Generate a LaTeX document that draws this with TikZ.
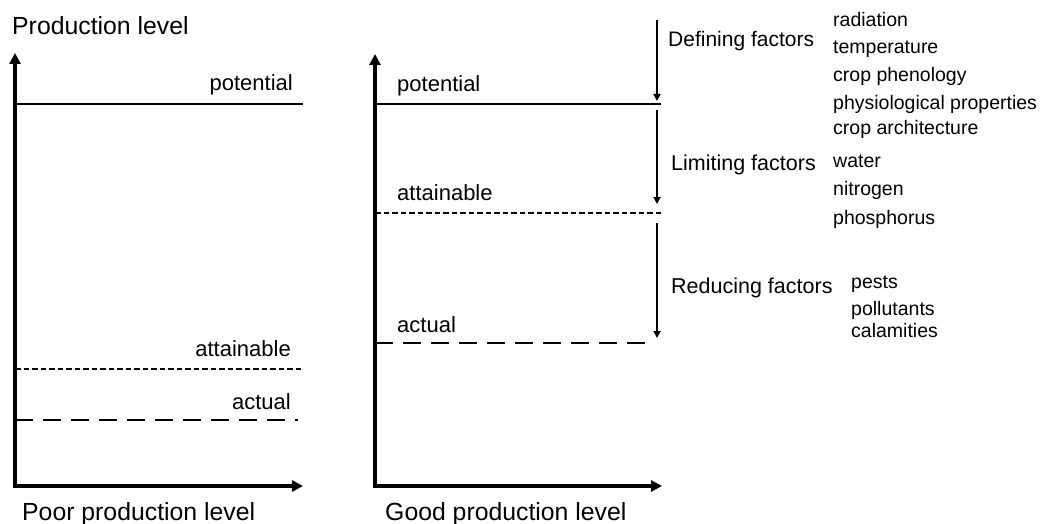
\documentclass[tikz,border=0pt]{standalone}
\usepackage{fontspec}
\setmainfont{Liberation Sans}
\usetikzlibrary{arrows.meta}
\begin{document}
\begin{tikzpicture}[x=1pt,y=-1pt,
  axisline/.style={line width=3.5pt,line join=miter,
    {Triangle[length=11pt,width=11pt]}-{Triangle[length=11pt,width=11pt]}},
  potline/.style={line width=2.4pt},
  attline/.style={line width=2.4pt,dash pattern=on 5.5pt off 3pt},
  actline/.style={line width=2.4pt,dash pattern=on 18pt off 10pt},
  factarrow/.style={line width=2.2pt,-{Triangle[length=7pt,width=7pt]}},
  title/.style={inner sep=0pt,font=\fontsize{24.8}{28}\selectfont},
  lvl/.style={inner sep=0pt,font=\fontsize{22}{26}\selectfont},
  fact/.style={inner sep=0pt,anchor=base west,font=\fontsize{21.5}{25}\selectfont},
  item/.style={inner sep=0pt,anchor=base west,font=\fontsize{19.5}{23}\selectfont}]
\useasboundingbox (0,0) rectangle (1043,524);

% ---------- left panel ----------
\coordinate (LT) at (15,53);
\coordinate (LO) at (15,486);
\coordinate (LR) at (303,486);
\draw[axisline] (LT) -- (LO) -- (LR);
\node[title,anchor=base west] (ltitle) at (12,35) {Production level};
\node[title,anchor=base west] (lxlab) at (22,520) {Poor production level};

\coordinate (LpotA) at (15,104);  \coordinate (LpotB) at (303,104);
\coordinate (LattA) at (15,369);  \coordinate (LattB) at (303,369);
\coordinate (LactA) at (15,420);  \coordinate (LactB) at (298,420);
\draw[potline] (LpotA) -- (LpotB);
\draw[attline] (LattA) -- (LattB);
\draw[actline] (LactA) -- (LactB);
\node[lvl,anchor=base east] (lpot) at (293,91) {potential};
\node[lvl,anchor=base east] (latt) at (291,356) {attainable};
\node[lvl,anchor=base east] (lact) at (291,409) {actual};

% ---------- right panel ----------
\coordinate (RT) at (375,54);
\coordinate (RO) at (375,486);
\coordinate (RR) at (662,486);
\draw[axisline] (RT) -- (RO) -- (RR);
\node[title,anchor=base west] (rxlab) at (385,520) {Good production level};

\coordinate (RpotA) at (375,104);  \coordinate (RpotB) at (661,104);
\coordinate (RattA) at (375,213);  \coordinate (RattB) at (661,213);
\coordinate (RactA) at (375,343);  \coordinate (RactB) at (654,343);
\draw[potline] (RpotA) -- (RpotB);
\draw[attline] (RattA) -- (RattB);
\draw[actline] (RactA) -- (RactB);
\node[lvl,anchor=base west] (rpot) at (397,92) {potential};
\node[lvl,anchor=base west] (ratt) at (397,200) {attainable};
\node[lvl,anchor=base west] (ract) at (397,332) {actual};

% ---------- factor arrows ----------
\coordinate (D1) at (657,20);  \coordinate (D2) at (657,101);
\coordinate (L1) at (657,110); \coordinate (L2) at (657,204);
\coordinate (R1) at (657,223); \coordinate (R2) at (657,338);
\draw[factarrow] (D1) -- (D2);
\draw[factarrow] (L1) -- (L2);
\draw[factarrow] (R1) -- (R2);

\node[fact,font=\fontsize{21}{25}\selectfont] (defn) at (668,47) {Defining factors};
\node[fact] (limt) at (671,170) {Limiting factors};
\node[fact] (redu) at (671,293) {Reducing factors};

\node[item] (i1) at (833,27) {radiation};
\node[item] (i2) at (833,54) {temperature};
\node[item] (i3) at (833,82) {crop phenology};
\node[item] (i4) at (833,110) {physiological properties};
\node[item] (i5) at (833,134) {crop architecture};
\node[item] (i6) at (833,167) {water};
\node[item] (i7) at (833,195) {nitrogen};
\node[item] (i8) at (833,224) {phosphorus};
\node[item] (i9) at (851,288) {pests};
\node[item] (i10) at (851,315) {pollutants};
\node[item] (i11) at (851,337) {calamities};
\end{tikzpicture}
\end{document}
